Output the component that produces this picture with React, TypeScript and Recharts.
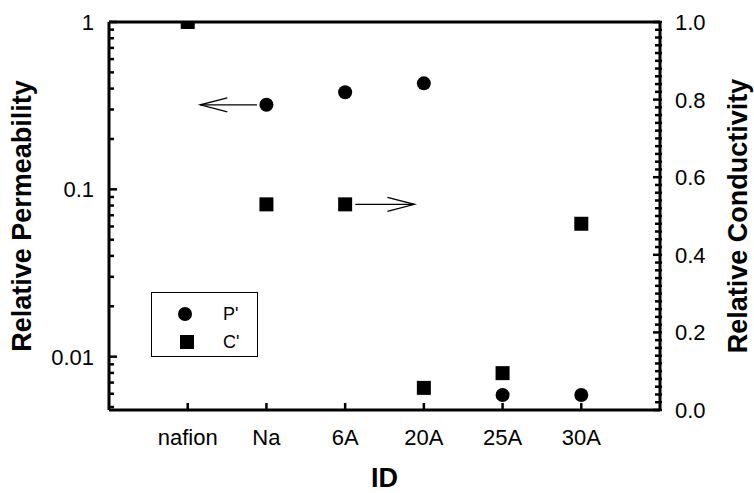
import React from "react";
import { ScatterChart, Scatter, XAxis, YAxis, ReferenceLine, Legend } from "recharts";

// membrane samples
const categories = ["nafion", "Na", "6A", "20A", "25A", "30A"];
const permeability = [1, 0.32, 0.38, 0.43, 0.0059, 0.0059]; // P' (left, log)
const conductivity = [1.0, 0.53, 0.53, 0.057, 0.095, 0.48]; // C' (right, linear)

const xTicks = [1, 2, 3, 4, 5, 6];
const leftMajorTicks = [0.01, 0.1, 1];
const leftMinorTicks = [
  0.005, 0.006, 0.007, 0.008, 0.009,
  0.02, 0.03, 0.04, 0.05, 0.06, 0.07, 0.08, 0.09,
  0.2, 0.3, 0.4, 0.5, 0.6, 0.7, 0.8, 0.9,
];
const rightMajorTicks = [0, 0.2, 0.4, 0.6, 0.8, 1.0];
const legendOrder = ["P'", "C'"];

// arrow annotations: [tail x, tip x, y]
const leftArrow = [1.88, 1.16, 0.32];
const rightArrow = [3.13, 3.88, 0.53];

const FONT = '"Liberation Sans", Arial, Helvetica, sans-serif';
const TICK_MARGIN = 15;

const pData = categories.map((c, i) => ({ x: i + 1, y: permeability[i], name: c }));
const cData = categories.map((c, i) => ({ x: i + 1, y: conductivity[i], name: c }));

const rightMinorTicks: number[] = [];
for (let i = 0; i <= 50; i++) rightMinorTicks.push(i / 50);

const LeftTick = (props: any) => {
  const { x, y, payload } = props;
  const v = payload.value;
  const major = leftMajorTicks.includes(v);
  const ax = x + TICK_MARGIN;
  return (
    <g>
      <line x1={ax} x2={ax + (major ? 8 : 5)} y1={y} y2={y} stroke="#000" strokeWidth={2.5} />
      {major && (
        <text x={x} y={y} dy="0.36em" textAnchor="end" fontSize={22} fill="#000" stroke="none" fontFamily={FONT}>
          {String(v)}
        </text>
      )}
    </g>
  );
};

const RightTick = (props: any) => {
  const { x, y, payload } = props;
  const v = payload.value;
  const major = rightMajorTicks.some((m) => Math.abs(m - v) < 1e-6);
  const ax = x - TICK_MARGIN;
  return (
    <g>
      <line x1={ax + 2} x2={ax - (major ? 7 : 5)} y1={y} y2={y} stroke="#000" strokeWidth={2.5} />
      {major && (
        <text x={x} y={y} dy="0.36em" textAnchor="start" fontSize={22} fill="#000" stroke="none" fontFamily={FONT}>
          {v.toFixed(1)}
        </text>
      )}
    </g>
  );
};

const BottomTick = (props: any) => {
  const { x, y, payload } = props;
  const ay = y - TICK_MARGIN;
  return (
    <g>
      <line x1={x} x2={x} y1={ay} y2={ay - 7} stroke="#000" strokeWidth={2.5} />
      <text x={x} y={ay + 35} textAnchor="middle" fontSize={22} fill="#000" stroke="none" fontFamily={FONT}>
        {categories[payload.value - 1]}
      </text>
    </g>
  );
};

const Dot = (p: any) => <circle cx={p.cx} cy={p.cy} r={7} fill="#000" />;
const Square = (p: any) => <rect x={p.cx - 7} y={p.cy - 7} width={14} height={14} fill="#000" />;

const Arrow = (p: any) => {
  const { x1, y1, x2, y2 } = p;
  const dir = Math.sign(x2 - x1);
  return (
    <g>
      <line x1={x1} y1={y1} x2={x2} y2={y2} stroke="#000" strokeWidth={1.3} />
      <polyline
        points={`${x2 - dir * 27},${y2 - 7} ${x2},${y2} ${x2 - dir * 27},${y2 + 7}`}
        fill="none"
        stroke="#000"
        strokeWidth={1.3}
      />
    </g>
  );
};

const VerticalTitle = (text: string, dx: number) => (props: any) => {
  const vb = props.viewBox;
  const cx = vb.x + dx;
  const cy = vb.y + vb.height / 2;
  return (
    <text
      x={cx}
      y={cy}
      transform={`rotate(-90, ${cx}, ${cy})`}
      textAnchor="middle"
      dominantBaseline="central"
      fontSize={27}
      fontWeight="bold"
      fill="#000"
      fontFamily={FONT}
    >
      {text}
    </text>
  );
};

const XTitle = (props: any) => {
  const vb = props.viewBox;
  return (
    <text x={vb.x + vb.width / 2} y={vb.y + 77} textAnchor="middle" fontSize={27} fontWeight="bold" fill="#000" fontFamily={FONT}>
      ID
    </text>
  );
};

const LegendBox = (props: any) => {
  const payload = [...(props.payload || [])].sort(
    (a: any, b: any) => legendOrder.indexOf(a.value) - legendOrder.indexOf(b.value)
  );
  return (
    <svg width={105} height={63} style={{ display: "block" }}>
      {payload.map((entry: any, i: number) => {
        const cy = 21 + i * 28;
        return (
          <g key={entry.value}>
            {entry.type === "square" ? (
              <rect x={28} y={cy - 7} width={14} height={14} fill="#000" />
            ) : (
              <circle cx={33} cy={cy} r={7} fill="#000" />
            )}
            <text x={71} y={cy + 6} fontSize={18} fill="#000" fontFamily={FONT}>
              {entry.value}
            </text>
          </g>
        );
      })}
    </svg>
  );
};

export default function App() {
  return (
    <div style={{ position: "absolute", left: 0, top: 0, width: 754, height: 493, background: "#fff" }}>
      <ScatterChart width={754} height={493} margin={{ top: 22, right: 0, bottom: 0, left: 0 }} style={{ fontFamily: FONT }}>
        <XAxis
          type="number"
          dataKey="x"
          domain={[0, 7]}
          ticks={xTicks}
          interval={0}
          height={83}
          tickSize={0}
          tickMargin={TICK_MARGIN}
          tickLine={false}
          axisLine={{ stroke: "#000", strokeWidth: 3 }}
          tick={<BottomTick />}
          label={XTitle}
        />
        <YAxis
          yAxisId="left"
          type="number"
          dataKey="y"
          scale="log"
          domain={[0.0048, 1]}
          allowDataOverflow
          ticks={[...leftMinorTicks, ...leftMajorTicks].sort((a, b) => a - b)}
          interval={0}
          width={109}
          tickSize={0}
          tickMargin={TICK_MARGIN}
          tickLine={false}
          axisLine={{ stroke: "#000", strokeWidth: 3 }}
          tick={<LeftTick />}
          label={VerticalTitle("Relative Permeability", 22)}
        />
        <YAxis
          yAxisId="right"
          orientation="right"
          type="number"
          dataKey="y"
          domain={[0, 1]}
          allowDataOverflow
          ticks={rightMinorTicks}
          interval={0}
          width={94}
          tickSize={0}
          tickMargin={TICK_MARGIN}
          tickLine={false}
          axisLine={{ stroke: "#000", strokeWidth: 3 }}
          tick={<RightTick />}
          label={VerticalTitle("Relative Conductivity", 78)}
        />
        <ReferenceLine yAxisId="left" y={1} stroke="#000" strokeWidth={3} />
        <ReferenceLine
          yAxisId="left"
          segment={[{ x: leftArrow[0], y: leftArrow[2] }, { x: leftArrow[1], y: leftArrow[2] }]}
          shape={Arrow}
        />
        <ReferenceLine
          yAxisId="right"
          segment={[{ x: rightArrow[0], y: rightArrow[2] }, { x: rightArrow[1], y: rightArrow[2] }]}
          shape={Arrow}
        />
        <Scatter
          name="P'"
          yAxisId="left"
          data={pData}
          fill="#000"
          legendType="circle"
          shape={Dot}
          isAnimationActive={false}
        />
        <Scatter
          name="C'"
          yAxisId="right"
          data={cData}
          fill="#000"
          legendType="square"
          shape={Square}
          isAnimationActive={false}
        />
        <Legend
          layout="vertical"
          align="center"
          verticalAlign="middle"
          content={LegendBox}
          wrapperStyle={{
            left: 151,
            top: 292,
            width: 107,
            height: 65,
            border: "1px solid #000",
            boxSizing: "border-box",
            background: "#fff",
          }}
        />
      </ScatterChart>
    </div>
  );
}
